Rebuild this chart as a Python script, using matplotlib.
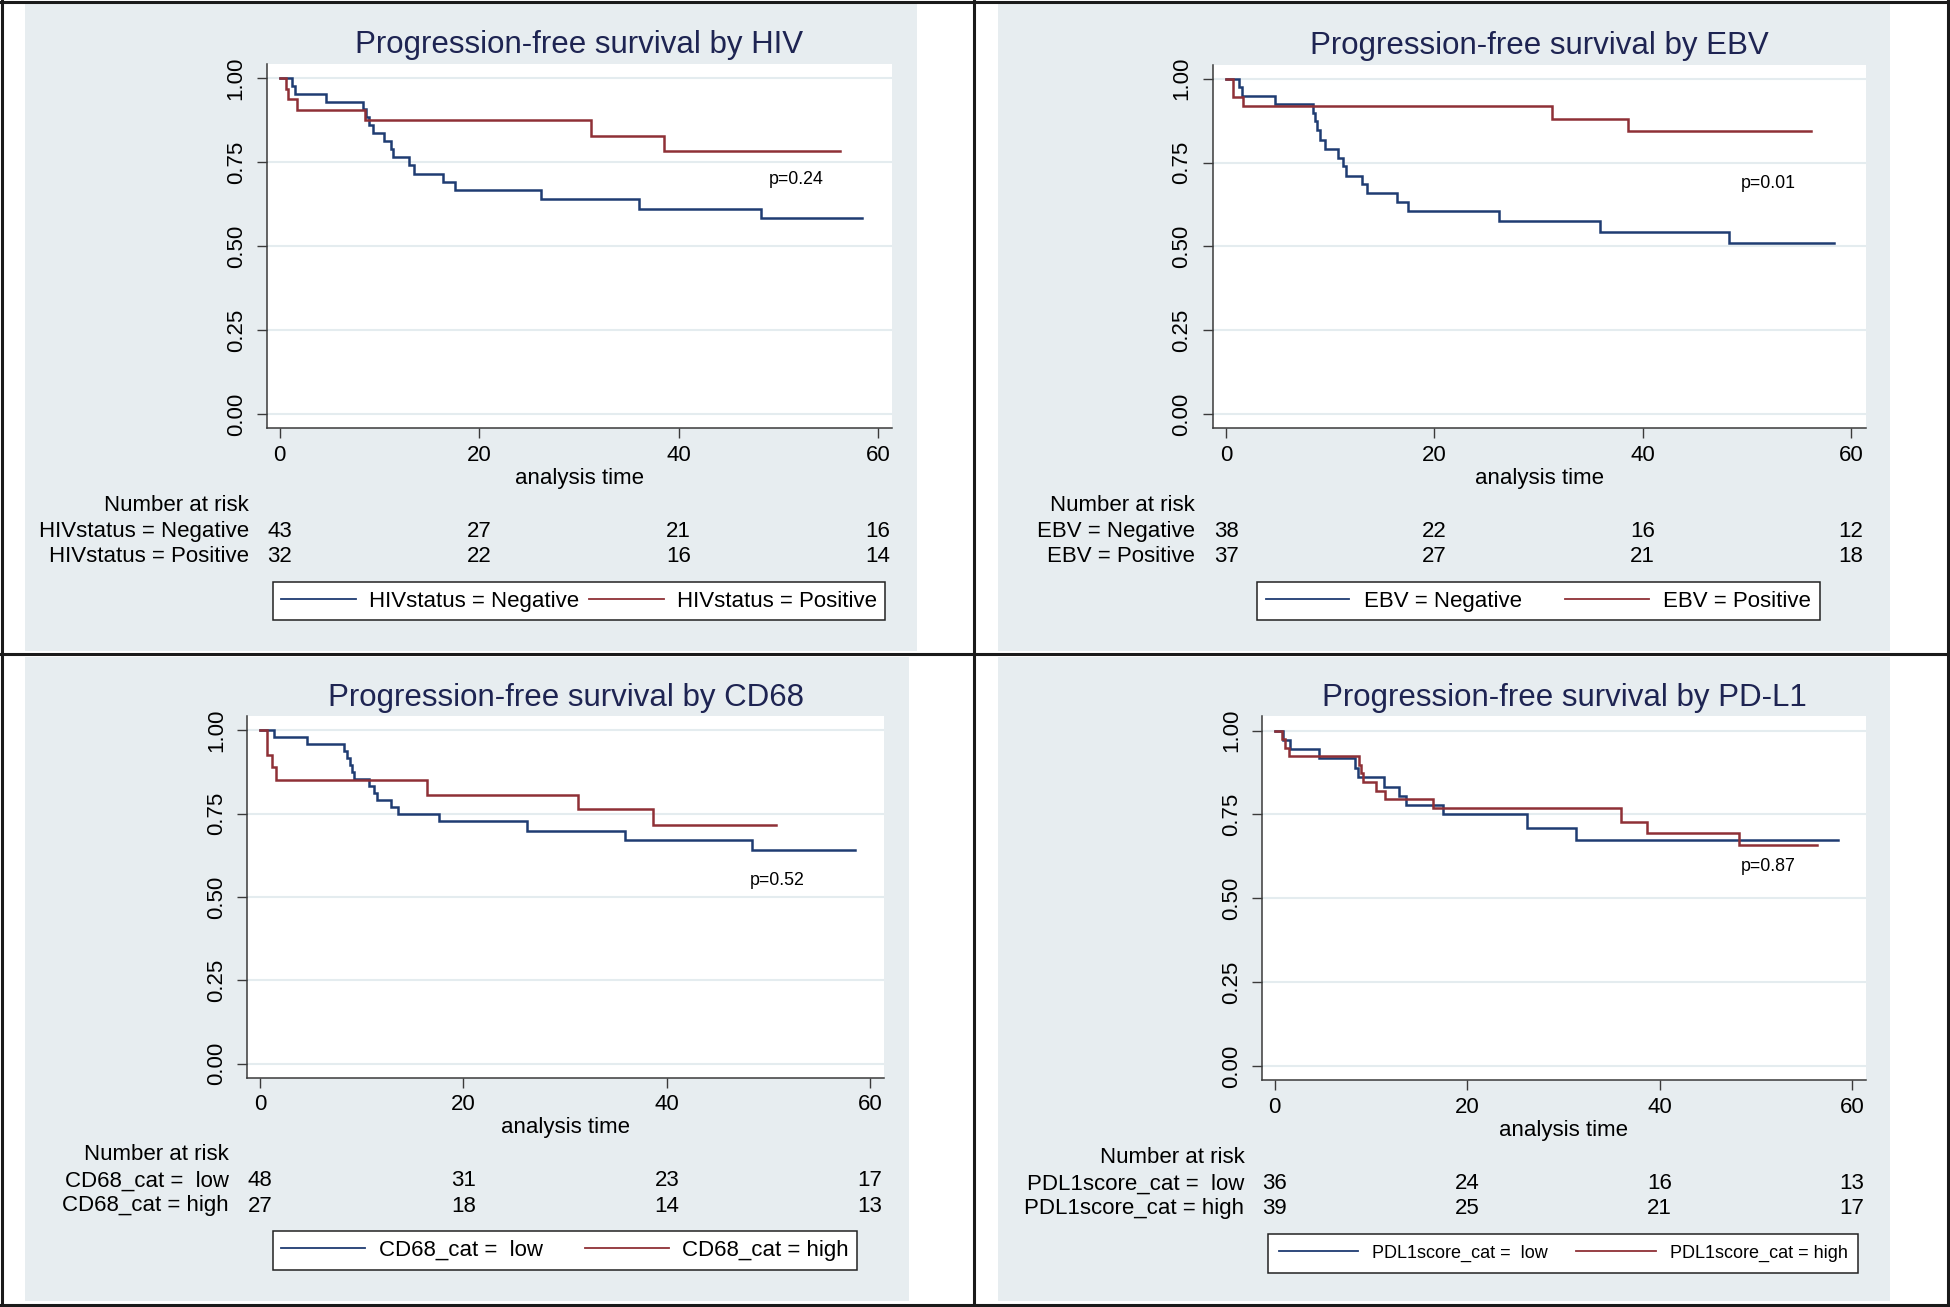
import matplotlib.pyplot as plt
from matplotlib import transforms
from matplotlib.patches import Rectangle
from matplotlib.lines import Line2D

plt.rcParams['font.family'] = ['Liberation Sans', 'DejaVu Sans']

# ---- data ----
risk_times = [0, 20, 40, 60]

# HIV
hiv_neg_t = [0, 1.2, 1.5, 4.6, 8.35, 8.7, 9.0, 9.4, 10.5, 11.2, 11.4, 13.0, 13.5, 16.4, 17.6, 26.2, 36.0, 48.3, 58.4]
hiv_neg_s = [1.0, 0.977, 0.953, 0.930, 0.907, 0.884, 0.860, 0.837, 0.813, 0.790, 0.764, 0.740, 0.715, 0.691, 0.667, 0.640, 0.611, 0.583, 0.583]
hiv_pos_t = [0, 0.6, 0.8, 1.7, 8.6, 31.2, 38.5, 56.2]
hiv_pos_s = [1.0, 0.969, 0.9375, 0.906, 0.875, 0.828, 0.783, 0.783]
hiv_risk_neg = [43, 27, 21, 16]
hiv_risk_pos = [32, 22, 16, 14]

# EBV
ebv_neg_t = [0, 1.27, 1.5, 4.7, 8.36, 8.5, 8.7, 9.0, 9.5, 10.7, 11.2, 11.5, 13.0, 13.5, 16.4, 17.5, 26.2, 35.9, 48.3, 58.4]
ebv_neg_s = [1.0, 0.974, 0.949, 0.924, 0.898, 0.873, 0.848, 0.818, 0.791, 0.763, 0.739, 0.711, 0.685, 0.660, 0.632, 0.605, 0.575, 0.542, 0.510, 0.510]
ebv_pos_t = [0, 0.7, 1.6, 31.3, 38.6, 56.2]
ebv_pos_s = [1.0, 0.946, 0.918, 0.880, 0.844, 0.844]
ebv_risk_neg = [38, 22, 16, 12]
ebv_risk_pos = [37, 27, 21, 18]

# CD68
cd68_low_t = [0, 1.4, 4.65, 8.3, 8.55, 8.8, 9.0, 9.25, 10.7, 11.2, 11.5, 12.9, 13.6, 17.6, 26.3, 35.9, 48.4, 58.5]
cd68_low_s = [1.0, 0.979, 0.958, 0.9375, 0.917, 0.896, 0.875, 0.854, 0.833, 0.8125, 0.792, 0.771, 0.75, 0.727, 0.699, 0.671, 0.640, 0.640]
cd68_high_t = [0, 0.7, 1.2, 1.6, 16.4, 31.3, 38.6, 50.7]
cd68_high_s = [1.0, 0.926, 0.889, 0.852, 0.807, 0.763, 0.715, 0.715]
cd68_risk_low = [48, 31, 23, 17]
cd68_risk_high = [27, 18, 14, 13]

# PD-L1
pdl1_low_t = [0, 0.8, 1.58, 4.63, 8.3, 8.6, 11.3, 12.9, 13.6, 17.5, 26.2, 31.3, 58.5]
pdl1_low_s = [1.0, 0.972, 0.944, 0.917, 0.889, 0.861, 0.833, 0.806, 0.778, 0.75, 0.71, 0.675, 0.675]
pdl1_high_t = [0, 0.7, 1.1, 1.5, 8.8, 9.0, 9.2, 10.5, 11.5, 16.4, 36.0, 38.7, 48.3, 56.4]
pdl1_high_s = [1.0, 0.974, 0.949, 0.923, 0.897, 0.872, 0.846, 0.820, 0.795, 0.769, 0.727, 0.694, 0.660, 0.660]
pdl1_risk_low = [36, 24, 16, 13]
pdl1_risk_high = [39, 25, 21, 17]

# ---- style ----
W, H = 1950, 1307
BG = '#e7edf0'
GRID = '#e4ecef'
NAVY = '#1f3c72'
MAROON = '#8f3036'
TITLE = '#1e2452'
AXC = '#3a3a3a'


def fx(px):
    return px / W


def fy(py):
    return 1 - py / H


panels = [
    dict(title='Progression-free survival by HIV',
         curves=[(hiv_neg_t, hiv_neg_s, NAVY), (hiv_pos_t, hiv_pos_s, MAROON)],
         labels=['HIVstatus = Negative', 'HIVstatus = Positive'],
         risk=[hiv_risk_neg, hiv_risk_pos], pval='p=0.24', pxy=(49.0, 0.698),
         axpx=(266.7, 64, 892, 428.3), bgpx=(25, 4, 917, 651),
         leg=dict(cx=579, fs=16, hl=3.38, htp=0.59, cs=0.4, bp=0.39)),
    dict(title='Progression-free survival by EBV',
         curves=[(ebv_neg_t, ebv_neg_s, NAVY), (ebv_pos_t, ebv_pos_s, MAROON)],
         labels=['EBV = Negative', 'EBV = Positive'],
         risk=[ebv_risk_neg, ebv_risk_pos], pval='p=0.01', pxy=(49.4, 0.688),
         axpx=(1212.6, 64.6, 1865.5, 428.3), bgpx=(998, 4, 1890, 651),
         leg=dict(cx=1538.5, fs=16, hl=3.75, htp=0.66, cs=1.95, bp=0.39)),
    dict(title='Progression-free survival by CD68',
         curves=[(cd68_low_t, cd68_low_s, NAVY), (cd68_high_t, cd68_high_s, MAROON)],
         labels=['CD68_cat =  low', 'CD68_cat = high'],
         risk=[cd68_risk_low, cd68_risk_high], pval='p=0.52', pxy=(48.2, 0.55),
         axpx=(246.9, 716.4, 884.3, 1077.5), bgpx=(25, 657, 909, 1301),
         leg=dict(cx=565, fs=16, hl=3.78, htp=0.59, cs=1.9, bp=0.39)),
    dict(title='Progression-free survival by PD-L1',
         curves=[(pdl1_low_t, pdl1_low_s, NAVY), (pdl1_high_t, pdl1_high_s, MAROON)],
         labels=['PDL1score_cat =  low', 'PDL1score_cat = high'],
         risk=[pdl1_risk_low, pdl1_risk_high], pval='p=0.87', pxy=(48.4, 0.595),
         axpx=(1262.3, 716.4, 1865.5, 1080.4), bgpx=(998, 657, 1890, 1301),
         leg=dict(cx=1563, fs=13, hl=4.4, htp=0.76, cs=1.6, bp=0.61)),
]

fig = plt.figure(figsize=(W / 100, H / 100), dpi=100)
fig.patch.set_facecolor('white')

for p in panels:
    l, t, r, b = p['axpx']
    bx0, by0, bx1, by1 = p['bgpx']
    fig.add_artist(Rectangle((fx(bx0), fy(by1)), (bx1 - bx0) / W, (by1 - by0) / H,
                             transform=fig.transFigure, facecolor=BG, edgecolor='none', zorder=0))

    ax = fig.add_axes([fx(l), fy(b), (r - l) / W, (b - t) / H])
    ax.set_facecolor('white')
    handles = []
    for (ts, ss, col), lab in zip(p['curves'], p['labels']):
        ax.step(ts, ss, where='post', color=col, lw=1.8, solid_joinstyle='miter')
        handles.append(Line2D([], [], color=col, lw=1.3))

    ax.set_xlim(-1.3, 61.4)
    ax.set_ylim(-0.042, 1.042)
    ax.set_xticks(risk_times)
    ax.set_yticks([0, 0.25, 0.5, 0.75, 1.0])
    ax.set_yticklabels(['0.00', '0.25', '0.50', '0.75', '1.00'])
    ax.tick_params(axis='both', labelsize=16, length=7, width=1.0, color=AXC, labelcolor='black')
    ax.tick_params(axis='y', labelrotation=90, pad=7.4)
    ax.tick_params(axis='x', pad=5)
    for lab in ax.get_yticklabels():
        lab.set_va('center')
    ax.yaxis.grid(True, color=GRID, lw=1.5)
    ax.set_axisbelow(True)
    for side in ['top', 'right']:
        ax.spines[side].set_visible(False)
    for side in ['left', 'bottom']:
        ax.spines[side].set_color(AXC)
        ax.spines[side].set_linewidth(1.1)

    ax.text(p['pxy'][0], p['pxy'][1], p['pval'], ha='left', va='center', fontsize=12.8)

    fig.text(fx((l + r) / 2), fy(t - 18.5), p['title'], ha='center', va='center',
             fontsize=22.5, color=TITLE)
    fig.text(fx((l + r) / 2), fy(b + 50.5), 'analysis time', ha='center', va='center', fontsize=16)

    # number at risk table
    fig.text(fx(l - 18), fy(b + 77.5), 'Number at risk', ha='right', va='center', fontsize=16)
    trans = transforms.blended_transform_factory(ax.transData, fig.transFigure)
    for k, (lab, counts) in enumerate(zip(p['labels'], p['risk'])):
        ry = b + 103.5 + 25 * k
        fig.text(fx(l - 18), fy(ry), lab, ha='right', va='center', fontsize=16)
        for tt, n in zip(risk_times, counts):
            ax.text(tt, fy(ry), str(n), transform=trans, ha='center', va='center', fontsize=16)

    lg = p['leg']
    leg = ax.legend(handles, p['labels'], loc='center', ncol=2,
                    bbox_to_anchor=(fx(lg['cx']), fy(b + 173)), bbox_transform=fig.transFigure,
                    fontsize=lg['fs'], handlelength=lg['hl'], handletextpad=lg['htp'],
                    columnspacing=lg['cs'], borderpad=lg['bp'], frameon=True, fancybox=False,
                    edgecolor='#222222', framealpha=1)
    leg.get_frame().set_linewidth(1.1)

# frame lines
frame = [((0, 1.5), (W, 1.5)), ((0, H - 2), (W, H - 2)), ((1.5, 0), (1.5, H)),
         ((W - 2, 0), (W - 2, H)), ((0, 654), (W, 654)), ((974, 0), (974, H))]
for (x0, y0), (x1, y1) in frame:
    fig.add_artist(Line2D([fx(x0), fx(x1)], [fy(y0), fy(y1)], transform=fig.transFigure,
                          color='#1a1a1a', lw=2.2, zorder=5))

fig.savefig('out.png', dpi=100, facecolor='white')
